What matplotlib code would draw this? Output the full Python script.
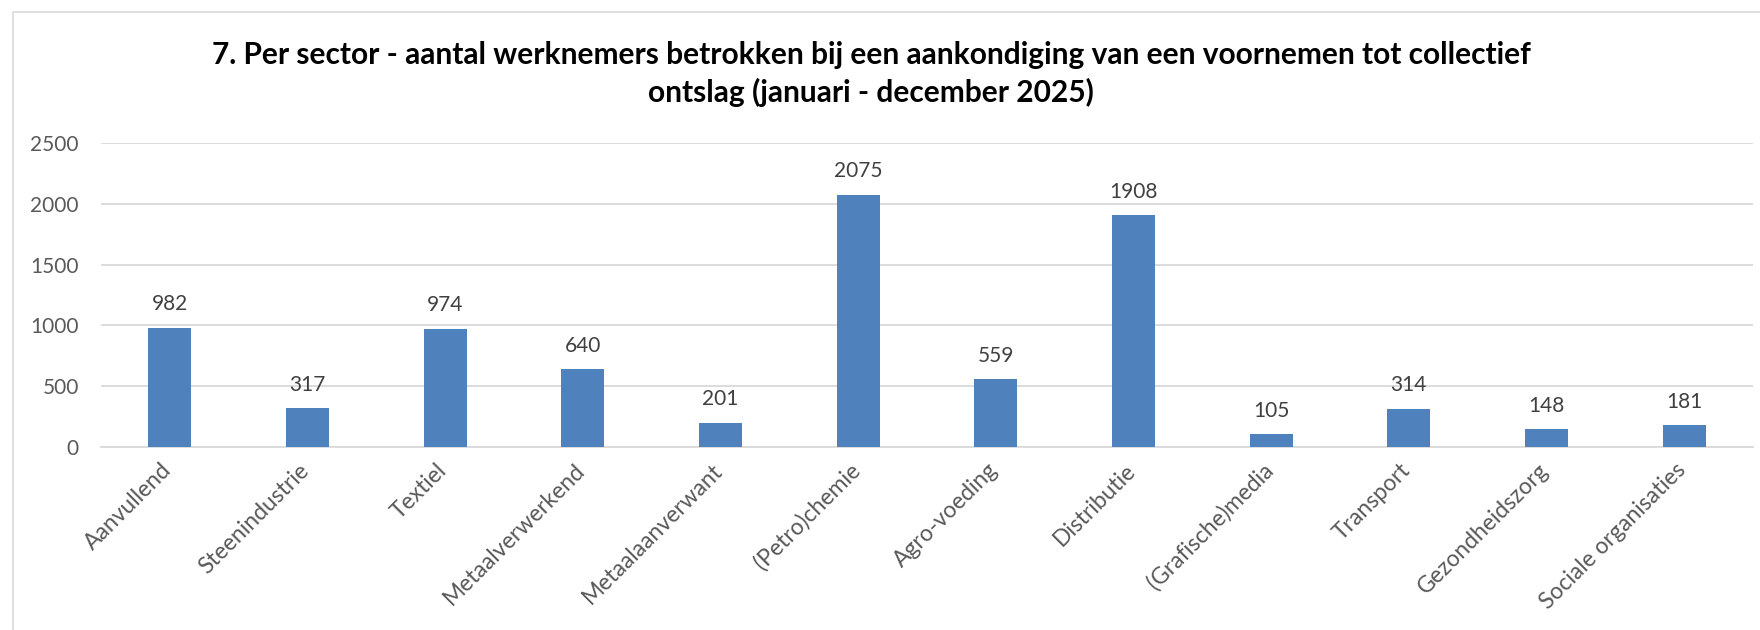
import matplotlib
matplotlib.use("Agg")
import matplotlib.pyplot as plt
from matplotlib.patches import Rectangle
from matplotlib.transforms import ScaledTranslation

categories = ["Aanvullend", "Steenindustrie", "Textiel", "Metaalverwerkend",
              "Metaalaanverwant", "(Petro)chemie", "Agro-voeding", "Distributie",
              "(Grafische)media", "Transport", "Gezondheidszorg", "Sociale organisaties"]
values = [982, 317, 974, 640, 201, 2075, 559, 1908, 105, 314, 148, 181]
y_ticks = [0, 500, 1000, 1500, 2000, 2500]
title = ("7. Per sector - aantal werknemers betrokken bij een aankondiging van een voornemen tot collectief\n"
         "ontslag (januari - december 2025)")

plt.rcParams['font.family'] = ['Lato', 'DejaVu Sans']

W, H = 1760, 630
fig = plt.figure(figsize=(W / 100, H / 100), dpi=100)
fig.patch.set_facecolor("white")

# chart frame
fig.patches.append(Rectangle((13 / W, -0.5), 2, 1.5 - 12 / H, transform=fig.transFigure,
                             fill=False, edgecolor="#D9D9D9", linewidth=1.2))

ax = fig.add_axes([101 / W, 1 - 447 / H, (1753 - 101) / W, (447 - 143) / H])
x = list(range(len(categories)))
ax.bar(x, values, width=0.31, color="#4F81BD", zorder=3)
ax.set_xlim(-0.5, len(categories) - 0.5)
ax.set_ylim(0, 2500)
ax.set_yticks(y_ticks)
ax.set_yticklabels([str(t) for t in y_ticks], fontsize=15, color="#595959")
ax.set_xticks(x)
ax.set_xticklabels(categories, rotation=45, ha="right", va="top", fontsize=16.5, color="#595959")
ax.tick_params(axis="both", length=0)
ax.tick_params(axis="y", pad=16)
ax.tick_params(axis="x", pad=9)
shift = ScaledTranslation(6 / 100, 0, fig.dpi_scale_trans)
for lbl in ax.get_xticklabels():
    lbl.set_transform(lbl.get_transform() + shift)
ax.grid(axis="y", color="#D9D9D9", linewidth=1.3, zorder=0)
for s in ["top", "right", "left"]:
    ax.spines[s].set_visible(False)
ax.spines["bottom"].set_color("#D9D9D9")
ax.spines["bottom"].set_linewidth(1.3)

for xi, v in zip(x, values):
    ax.annotate(str(v), (xi, v), xytext=(0, 12.5), textcoords="offset points",
                ha="center", va="baseline", fontsize=15, color="#404040")

fig.text(871 / W, 1 - 74 / H, title, ha="center", va="center", fontsize=21.5,
         fontweight="bold", color="black", linespacing=1.35)

fig.savefig("out.png", dpi=100)
